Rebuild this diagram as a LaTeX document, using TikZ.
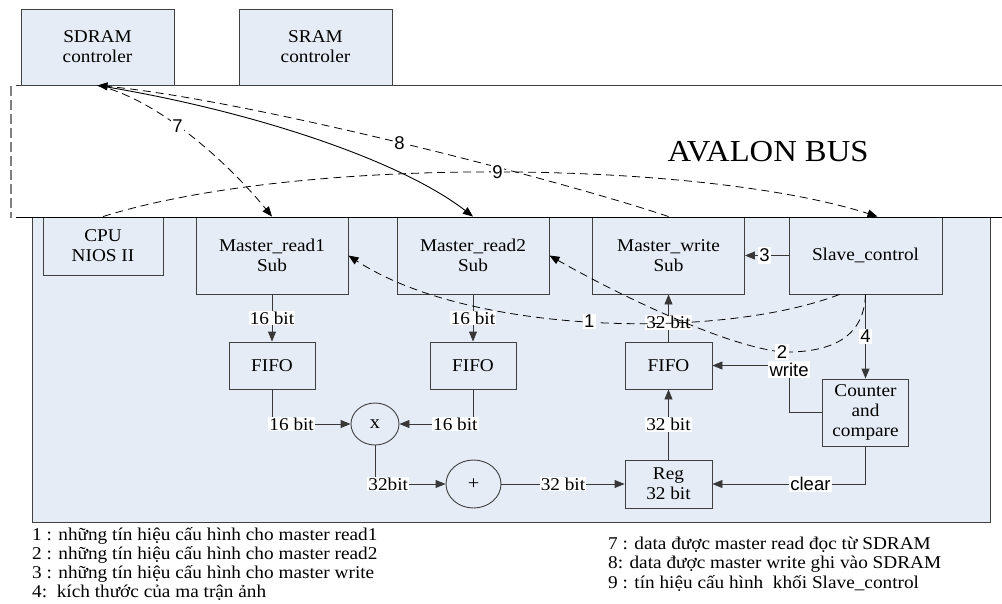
\documentclass[tikz,border=0pt]{standalone}
\usepackage{fontspec}
\setmainfont{Liberation Serif}[FakeStretch=1.07]
\newfontfamily\sansf{Liberation Sans}
\usetikzlibrary{arrows.meta,shapes.geometric,calc}
\definecolor{boxfill}{HTML}{E6ECF6}
\definecolor{edge}{HTML}{404040}
\definecolor{wire}{HTML}{383838}
\begin{document}
\begin{tikzpicture}[x=1pt,y=-1pt,
  blk/.style={draw=edge, fill=boxfill, line width=0.9pt, align=center, inner sep=0pt, font=\fontsize{18}{20}\selectfont},
  circ/.style={draw=edge, fill=boxfill, line width=0.9pt, ellipse, inner sep=0pt, font=\fontsize{19}{20}\selectfont},
  arr/.style={draw=wire, line width=0.9pt, -{Triangle[length=10pt,width=8pt]}},
  dsh/.style={draw=black, line width=0.8pt, dash pattern=on 8pt off 5pt, -{Triangle[length=10pt,width=8pt]}},
  lbl/.style={fill=white, inner sep=1pt, font=\fontsize{18}{20}\selectfont},
  slbl/.style={fill=white, inner sep=1.5pt, font=\sansf\fontsize{18.5}{20}\selectfont},
  leg/.style={anchor=base west, inner sep=0pt, font=\fontsize{18}{20}\selectfont}]
\useasboundingbox (0,0) rectangle (1002,603);

% main area
\node[blk, minimum width=958pt, minimum height=305pt] (main) at (511,369.5) {};

% top controllers
\node[blk, minimum width=153pt, minimum height=76pt] (sd) at (97.5,47) {SDRAM\\controler};
\node[blk, minimum width=153pt, minimum height=76pt] (sr) at (315.5,47) {SRAM\\controler};

% bus
\coordinate (busTL) at (16,85);
\coordinate (busTR) at (1002,85);
\coordinate (busBL) at (16,217);
\coordinate (busBR) at (1002,217);
\coordinate (dashT) at (11,86);
\coordinate (dashB) at (11,218);
\draw[edge, line width=1pt] (busTL) -- (busTR);
\draw[gray, line width=1.4pt, dash pattern=on 10pt off 4pt] (dashT) -- (dashB);
\node[anchor=base, inner sep=0pt, font=\fontsize{30.5}{32}\selectfont] (bus) at (768,161) {AVALON BUS};

% blocks
\node[blk, minimum width=120pt, minimum height=58pt] (cpu) at (103,246) {CPU\\NIOS II};
\node[blk, minimum width=152pt, minimum height=77pt] (mr1) at (272,255.5) {Master\_read1\\Sub};
\node[blk, minimum width=152pt, minimum height=77pt] (mr2) at (473,255.5) {Master\_read2\\Sub};
\node[blk, minimum width=152pt, minimum height=77pt] (mw) at (668.5,255.5) {Master\_write\\Sub};
\node[blk, minimum width=153pt, minimum height=77pt] (sl) at (865.5,255.5) {Slave\_control};

\node[blk, minimum width=86pt, minimum height=47pt] (f1) at (272,365.5) {FIFO};
\node[blk, minimum width=86pt, minimum height=47pt] (f2) at (473,365.5) {FIFO};
\node[blk, minimum width=87pt, minimum height=47pt] (f3) at (668.5,365.5) {FIFO};
\node[blk, minimum width=86pt, minimum height=67pt] (cnt) at (865.5,412.5) {Counter\\and\\compare};
\node[circ, minimum width=48pt, minimum height=42pt] (mul) at (375,424) {x};
\node[circ, minimum width=55pt, minimum height=48pt] (add) at (473.5,484) {+};
\node[blk, minimum width=87pt, minimum height=48pt] (reg) at (668.5,484) {Reg\\32 bit};

\draw[black, line width=1pt] (busBL) -- (busBR);

% solid connectors
\draw[arr] (mr1.south) -- node[midway, lbl]{16 bit} (f1.north);
\draw[arr] (mr2.south) -- node[midway, lbl]{16 bit} (f2.north);
\draw[arr] (f1.south) |- node[pos=0.5, anchor=west, xshift=-4pt, lbl]{16 bit} (mul.west);
\draw[arr] (f2.south) |- node[pos=0.5, anchor=east, xshift=6pt, lbl]{16 bit} (mul.east);
\draw[arr] (mul.south) |- node[pos=0.5, anchor=west, xshift=-8pt, lbl]{32bit} (add.west);
\draw[arr] (add.east) -- node[midway, lbl]{32 bit} (reg.west);
\draw[arr] (reg.north) -- node[midway, lbl]{32 bit} (f3.south);
\draw[arr] (f3.north) -- node[pos=0.4, lbl]{32 bit} (mw.south);
\draw[arr] (sl.west) -- node[pos=0.55, slbl]{3} (mw.east);
\draw[arr] (sl.south) -- node[midway, slbl]{4} (cnt.north);
\draw[arr] (cnt.west) -- ++(-33,0) |- node[pos=0.5, yshift=-4pt, slbl]{write} (f3.east);
\draw[arr] (cnt.south) |- node[pos=0.68, slbl]{clear} (reg.east);

% bus transfers
\draw[arr, draw=black] (sd.south) .. controls (250,110) and (400,160) .. (mr2.north);
\draw[dsh] (sd.south) .. controls (160,100) and (230,165) .. node[pos=0.42, slbl]{7} (mr1.north);
\draw[dsh] (mw.north) .. controls (560,180) and (250,100) .. node[pos=0.5, slbl]{8} (sd.south);
\draw[dsh] (cpu.north) .. controls (300,155) and (700,160) .. node[pos=0.5, slbl]{9} ([xshift=12pt]sl.north);

% configuration signals
\draw[dsh] ([xshift=-26pt]sl.south) .. controls (720,340) and (470,335) .. node[pos=0.51, slbl]{1} (mr1.east);
\draw[dsh] (sl.south) .. controls (864,335) and (835,353) .. (782,352) node[slbl]{2} .. controls (720,345) and (610,290) .. (mr2.east);

% legend
\node[leg] (l1) at (32,540) {1 : những tín hiệu cấu hình cho master read1};
\node[leg] (l2) at (32,559) {2 : những tín hiệu cấu hình cho master read2};
\node[leg] (l3) at (32,578.5) {3 : những tín hiệu cấu hình cho master write};
\node[leg] (l4) at (32,597.5) {4:\ \ kích thước của ma trận ảnh};
\node[leg] (l7) at (608,549) {7 : data được master read đọc từ SDRAM};
\node[leg] (l8) at (608,568.5) {8: data được master write ghi vào SDRAM};
\node[leg] (l9) at (608,588) {9 : tín hiệu cấu hình\ \ khối Slave\_control};
\end{tikzpicture}
\end{document}
